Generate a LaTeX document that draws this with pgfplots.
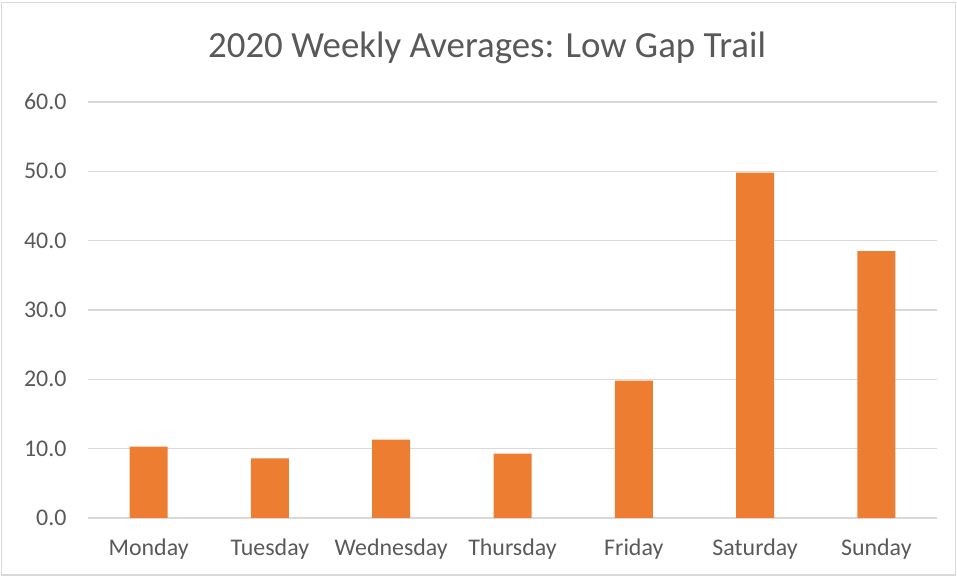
\documentclass[border=0pt]{standalone}
\usepackage{fontspec}
\setmainfont{Carlito}
\usepackage{pgfplots}
\pgfplotsset{compat=1.18}

\definecolor{barorange}{HTML}{ED7D31}
\definecolor{gridgray}{HTML}{D9D9D9}
\definecolor{textgray}{HTML}{595959}

\begin{document}
\begin{tikzpicture}[x=1bp,y=1bp]
\useasboundingbox (0,0) rectangle (957,577);
\draw[gridgray, line width=1.2bp] (1.5,2) rectangle (955.5,574.5);
\node[text=textgray, font=\fontsize{37}{40}\selectfont] at (487,529) {2020 Weekly Averages: Low Gap Trail};

\begin{axis}[
    at={(88bp,59bp)}, anchor=south west,
    scale only axis,
    width=849bp, height=416bp,
    ybar, bar width=38bp,
    xmin=-0.5, xmax=6.5,
    ymin=0, ymax=60,
    ytick={0,10,...,60},
    xtick=data,
    xticklabels={Monday,Tuesday,Wednesday,Thursday,Friday,Saturday,Sunday},
    yticklabel={\pgfmathprintnumber[fixed,fixed zerofill,precision=1]{\tick}},
    /pgf/number format/assume math mode=true,
    ymajorgrids,
    grid style={gridgray, line width=1.3bp},
    axis line style={draw=none},
    major tick length=0pt,
    tick label style={text=textgray, font=\fontsize{24}{28}\selectfont},
    yticklabel style={xshift=-18bp},
    xticklabel style={yshift=-17bp},
]
\addplot[fill=barorange, draw=none] coordinates {
    (0,10.3) (1,8.6) (2,11.3) (3,9.3) (4,19.8) (5,49.8) (6,38.5)
};
\end{axis}
\end{tikzpicture}
\end{document}
